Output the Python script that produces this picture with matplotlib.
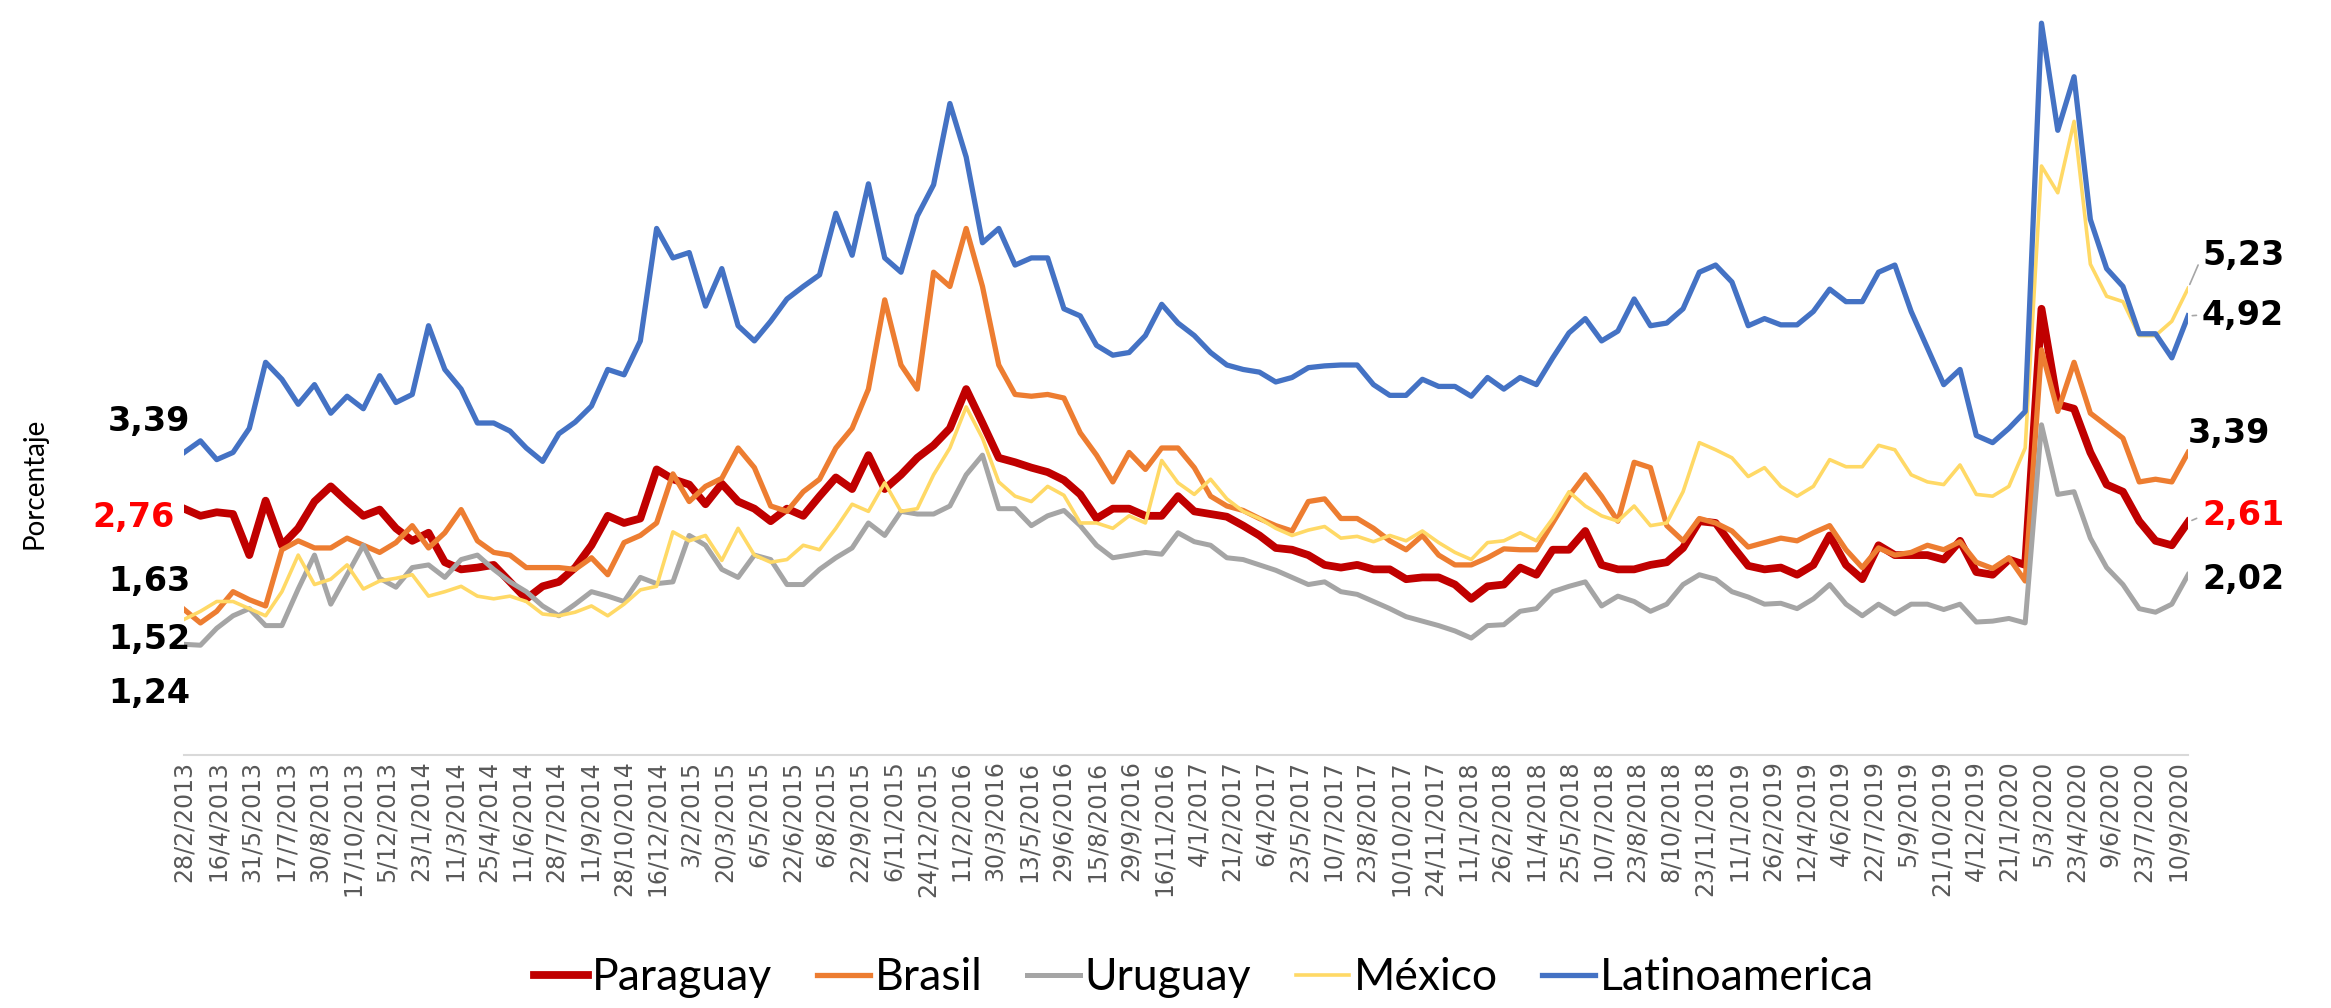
import numpy as np
import matplotlib.pyplot as plt

# x axis: business-day rows, one label every 33 rows
n_days = 1958
tick_step = 33
tick_labels = [
    "28/2/2013", "16/4/2013", "31/5/2013", "17/7/2013", "30/8/2013", "17/10/2013", "5/12/2013",
    "23/1/2014", "11/3/2014", "25/4/2014", "11/6/2014", "28/7/2014", "11/9/2014", "28/10/2014", "16/12/2014",
    "3/2/2015", "20/3/2015", "6/5/2015", "22/6/2015", "6/8/2015", "22/9/2015", "6/11/2015", "24/12/2015",
    "11/2/2016", "30/3/2016", "13/5/2016", "29/6/2016", "15/8/2016", "29/9/2016", "16/11/2016",
    "4/1/2017", "21/2/2017", "6/4/2017", "23/5/2017", "10/7/2017", "23/8/2017", "10/10/2017", "24/11/2017",
    "11/1/2018", "26/2/2018", "11/4/2018", "25/5/2018", "10/7/2018", "23/8/2018", "8/10/2018", "23/11/2018",
    "11/1/2019", "26/2/2019", "12/4/2019", "4/6/2019", "22/7/2019", "5/9/2019", "21/10/2019", "4/12/2019",
    "21/1/2020", "5/3/2020", "23/4/2020", "9/6/2020", "23/7/2020", "10/9/2020",
]

# values, evenly spaced over the period (%)
paraguay = [
    2.76, 2.68, 2.72, 2.70, 2.24, 2.85, 2.35, 2.54, 2.84, 3.01,
    2.84, 2.68, 2.75, 2.54, 2.40, 2.49, 2.16, 2.08, 2.10, 2.13,
    1.94, 1.75, 1.89, 1.94, 2.10, 2.35, 2.68, 2.60, 2.65, 3.20,
    3.09, 3.03, 2.81, 3.04, 2.84, 2.76, 2.62, 2.76, 2.68, 2.90,
    3.11, 2.98, 3.36, 2.98, 3.14, 3.33, 3.47, 3.66, 4.10, 3.72,
    3.33, 3.28, 3.22, 3.17, 3.08, 2.92, 2.65, 2.76, 2.76, 2.68,
    2.68, 2.90, 2.73, 2.70, 2.67, 2.57, 2.46, 2.32, 2.30, 2.24,
    2.13, 2.10, 2.13, 2.08, 2.08, 1.97, 1.99, 1.99, 1.91, 1.75,
    1.89, 1.91, 2.10, 2.02, 2.30, 2.30, 2.51, 2.13, 2.08, 2.08,
    2.13, 2.16, 2.32, 2.62, 2.60, 2.35, 2.12, 2.08, 2.10, 2.02,
    2.13, 2.46, 2.13, 1.97, 2.35, 2.24, 2.24, 2.24, 2.19, 2.40,
    2.05, 2.02, 2.19, 2.13, 5.00, 3.93, 3.88, 3.39, 3.03, 2.95,
    2.62, 2.40, 2.35, 2.61,
]
brasil = [
    1.63, 1.48, 1.61, 1.83, 1.74, 1.67, 2.30, 2.40, 2.32, 2.32,
    2.43, 2.35, 2.27, 2.38, 2.57, 2.32, 2.49, 2.75, 2.40, 2.27,
    2.24, 2.10, 2.10, 2.10, 2.08, 2.21, 2.02, 2.38, 2.46, 2.60,
    3.15, 2.84, 3.01, 3.10, 3.44, 3.22, 2.79, 2.73, 2.95, 3.09,
    3.44, 3.66, 4.10, 5.10, 4.37, 4.10, 5.41, 5.25, 5.90, 5.25,
    4.37, 4.04, 4.02, 4.04, 4.00, 3.61, 3.36, 3.06, 3.39, 3.20,
    3.44, 3.44, 3.22, 2.90, 2.79, 2.74, 2.65, 2.57, 2.51, 2.84,
    2.87, 2.65, 2.65, 2.54, 2.40, 2.30, 2.46, 2.24, 2.13, 2.13,
    2.21, 2.31, 2.30, 2.30, 2.60, 2.90, 3.14, 2.90, 2.62, 3.28,
    3.22, 2.57, 2.40, 2.65, 2.60, 2.51, 2.33, 2.38, 2.43, 2.40,
    2.49, 2.57, 2.30, 2.10, 2.32, 2.24, 2.27, 2.35, 2.30, 2.39,
    2.16, 2.09, 2.21, 1.95, 4.54, 3.85, 4.40, 3.83, 3.69, 3.55,
    3.06, 3.09, 3.06, 3.39,
]
uruguay = [
    1.24, 1.23, 1.42, 1.56, 1.64, 1.45, 1.45, 1.86, 2.24, 1.69,
    2.02, 2.35, 1.98, 1.88, 2.10, 2.13, 1.99, 2.19, 2.24, 2.08,
    1.94, 1.83, 1.67, 1.56, 1.69, 1.83, 1.78, 1.72, 1.99, 1.92,
    1.94, 2.46, 2.35, 2.08, 1.99, 2.24, 2.19, 1.91, 1.91, 2.08,
    2.21, 2.32, 2.60, 2.46, 2.73, 2.70, 2.70, 2.79, 3.14, 3.36,
    2.76, 2.76, 2.57, 2.68, 2.74, 2.57, 2.35, 2.21, 2.24, 2.27,
    2.25, 2.49, 2.39, 2.35, 2.21, 2.19, 2.13, 2.07, 1.99, 1.91,
    1.94, 1.83, 1.80, 1.72, 1.64, 1.55, 1.50, 1.45, 1.39, 1.31,
    1.45, 1.46, 1.61, 1.64, 1.83, 1.89, 1.94, 1.67, 1.78, 1.72,
    1.61, 1.69, 1.91, 2.02, 1.97, 1.83, 1.77, 1.69, 1.70, 1.64,
    1.75, 1.91, 1.69, 1.56, 1.69, 1.58, 1.69, 1.69, 1.63, 1.69,
    1.49, 1.50, 1.53, 1.48, 3.70, 2.92, 2.95, 2.43, 2.10, 1.91,
    1.64, 1.60, 1.69, 2.02,
]
mexico = [
    1.52, 1.61, 1.72, 1.72, 1.64, 1.56, 1.83, 2.24, 1.91, 1.97,
    2.13, 1.86, 1.95, 1.98, 2.02, 1.78, 1.83, 1.89, 1.78, 1.75,
    1.78, 1.72, 1.58, 1.56, 1.60, 1.67, 1.56, 1.69, 1.85, 1.89,
    2.50, 2.40, 2.46, 2.18, 2.54, 2.24, 2.16, 2.19, 2.35, 2.30,
    2.54, 2.81, 2.73, 3.05, 2.73, 2.76, 3.14, 3.44, 3.90, 3.55,
    3.06, 2.90, 2.84, 3.01, 2.91, 2.60, 2.60, 2.54, 2.68, 2.60,
    3.30, 3.05, 2.92, 3.09, 2.87, 2.73, 2.65, 2.54, 2.46, 2.52,
    2.56, 2.43, 2.45, 2.39, 2.46, 2.40, 2.51, 2.38, 2.27, 2.19,
    2.38, 2.40, 2.49, 2.40, 2.65, 2.95, 2.79, 2.68, 2.62, 2.79,
    2.57, 2.60, 2.95, 3.50, 3.42, 3.33, 3.12, 3.22, 3.01, 2.90,
    3.01, 3.31, 3.23, 3.23, 3.47, 3.42, 3.14, 3.06, 3.03, 3.25,
    2.92, 2.90, 3.01, 3.44, 6.60, 6.30, 7.10, 5.50, 5.14, 5.08,
    4.70, 4.70, 4.86, 5.23,
]
latam = [
    3.39, 3.52, 3.31, 3.39, 3.66, 4.40, 4.21, 3.93, 4.15, 3.83,
    4.02, 3.88, 4.25, 3.95, 4.04, 4.81, 4.32, 4.10, 3.72, 3.72,
    3.63, 3.44, 3.29, 3.60, 3.73, 3.91, 4.32, 4.26, 4.64, 5.90,
    5.57, 5.63, 5.03, 5.45, 4.81, 4.64, 4.86, 5.11, 5.25, 5.38,
    6.07, 5.60, 6.40, 5.57, 5.41, 6.04, 6.39, 7.30, 6.70, 5.74,
    5.90, 5.49, 5.57, 5.57, 5.00, 4.92, 4.59, 4.48, 4.51, 4.70,
    5.05, 4.84, 4.70, 4.51, 4.37, 4.32, 4.29, 4.18, 4.23, 4.34,
    4.36, 4.37, 4.37, 4.15, 4.03, 4.03, 4.21, 4.13, 4.13, 4.02,
    4.23, 4.10, 4.23, 4.15, 4.45, 4.73, 4.89, 4.64, 4.75, 5.11,
    4.81, 4.84, 5.00, 5.41, 5.49, 5.30, 4.81, 4.89, 4.82, 4.82,
    4.97, 5.22, 5.08, 5.08, 5.41, 5.49, 4.97, 4.56, 4.15, 4.32,
    3.58, 3.50, 3.66, 3.85, 8.20, 7.00, 7.60, 6.00, 5.45, 5.25,
    4.72, 4.72, 4.45, 4.92,
]

series = [
    ("Paraguay", paraguay, "#C00000", 5.6),
    ("Brasil", brasil, "#ED7D31", 3.8),
    ("Uruguay", uruguay, "#A5A5A5", 3.6),
    ("México", mexico, "#FFD966", 2.6),
    ("Latinoamerica", latam, "#4472C4", 3.8),
]

narrow = ["Lato", "DejaVu Sans"]


def fmt(v):
    return "{:.2f}".format(v).replace(".", ",")


fig = plt.figure(figsize=(23.31, 10.08), dpi=100)
ax = fig.add_axes([0.079, 0.251, 0.8597, 0.749])

lines = {}
for name, vals, color, lw in series:
    x = np.linspace(0, n_days - 1, len(vals))
    ln, = ax.plot(x, vals, color=color, lw=lw, label=name, solid_joinstyle="round")
    lines[name] = (x, vals, ln)

ax.set_xlim(0, n_days - 1)
ax.set_ylim(0, 8.46)
ax.set_xticks(np.arange(len(tick_labels)) * tick_step)
ax.set_xticklabels(tick_labels, rotation=90, fontsize=17, color="#595959")
ax.tick_params(axis="x", length=0, pad=4)
ax.set_yticks([])
for s in ["top", "right", "left"]:
    ax.spines[s].set_visible(False)
ax.spines["bottom"].set_color("#D9D9D9")
ax.spines["bottom"].set_linewidth(1.5)

fig.text(0.015, 1 - 483 / 1008, "Porcentaje", rotation=90, ha="center", va="center",
         fontsize=20, family=narrow)

# start labels (figure pixel positions of text)
start_pos = {"Latinoamerica": (190, 421), "Paraguay": (175, 517), "Brasil": (190, 581),
             "México": (190, 639), "Uruguay": (190, 693)}
for name, (px, py) in start_pos.items():
    x, vals, ln = lines[name]
    col = "#FF0000" if name == "Paraguay" else "black"
    ax.annotate(fmt(vals[0]), xy=(x[0], vals[0]), xytext=(px, 1008 - py),
                textcoords="figure pixels", ha="right", va="center",
                fontsize=24, fontweight="bold", color=col)

# end labels
end_pos = {"México": (2202, 256, True), "Latinoamerica": (2202, 315, True),
           "Brasil": (2188, 434, False), "Paraguay": (2202, 516, True),
           "Uruguay": (2202, 580, False)}
for name, (px, py, leader) in end_pos.items():
    x, vals, ln = lines[name]
    col = "#FF0000" if name == "Paraguay" else "black"
    arrow = None
    if leader:
        arrow = dict(arrowstyle="-", color="#A6A6A6", lw=1.2, shrinkA=2, shrinkB=3,
                     relpos=(0, 0.5))
    ax.annotate(fmt(vals[-1]), xy=(x[-1], vals[-1]), xytext=(px, 1008 - py),
                textcoords="figure pixels", ha="left", va="center",
                fontsize=24, fontweight="bold", color=col, arrowprops=arrow)

fig.legend(loc="center", bbox_to_anchor=(0.5166, 0.03), ncol=5, frameon=False,
           prop={"family": narrow, "size": 32}, handlelength=1.2,
           handletextpad=0.1, columnspacing=1.0)

fig.savefig("out.png", dpi=100)
